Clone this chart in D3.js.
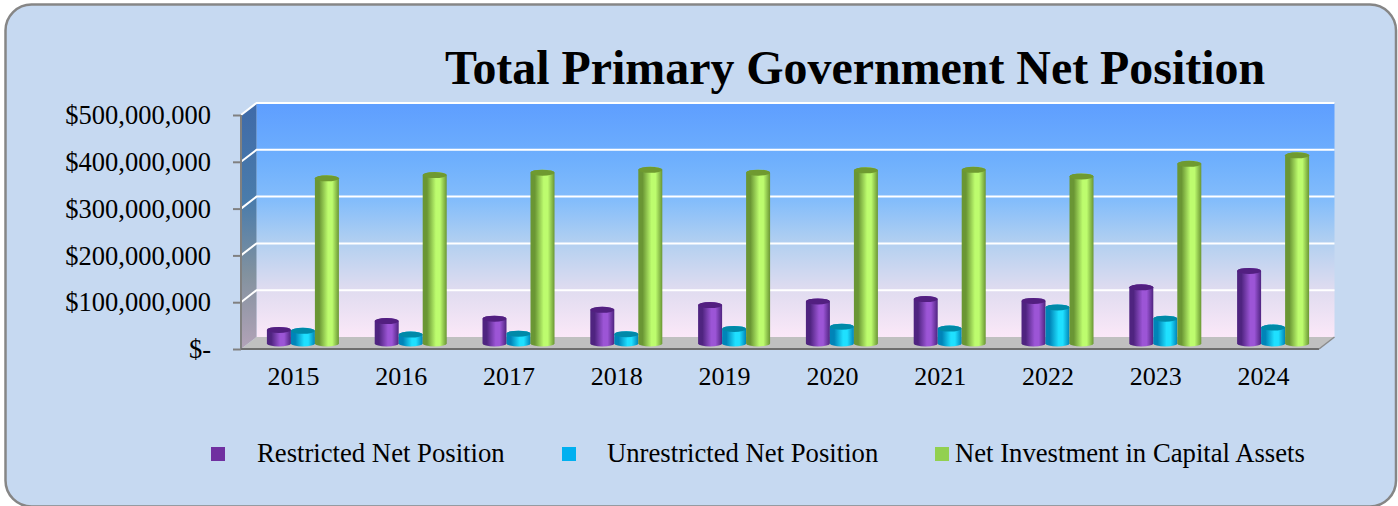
<!DOCTYPE html>
<html>
<head>
<meta charset="utf-8">
<script src="https://cdn.jsdelivr.net/npm/d3@7"></script>
<style>
html,body{margin:0;padding:0;background:#fff;overflow:hidden}
svg{display:block}
text{font-family:"Liberation Serif","Times New Roman",serif;fill:#000}
</style>
</head>
<body>
<script>
const title = "Total Primary Government Net Position";
const years = ["2015","2016","2017","2018","2019","2020","2021","2022","2023","2024"];
const seriesNames = ["Restricted Net Position","Unrestricted Net Position","Net Investment in Capital Assets"];
const restricted = [29,48,53,72,82,90,95,91,120,155].map(v=>v*1e6);
const unrestricted = [27,19,21,20,31,36,32,77,53,34].map(v=>v*1e6);
const capital = [353,360,365,371,365,370,371,357,384,402].map(v=>v*1e6);
const yTicks = [0,1e8,2e8,3e8,4e8,5e8];
const seriesValues = [restricted,unrestricted,capital];

const W=1398,H=506;
const svg=d3.select("body").append("svg").attr("width",W).attr("height",H);
const defs=svg.append("defs");

function lin(id,stops,vertical){
  const g=defs.append("linearGradient").attr("id",id)
    .attr("x1",0).attr("y1",0).attr("x2",vertical?0:1).attr("y2",vertical?1:0);
  stops.forEach(s=>g.append("stop").attr("offset",s[0]).attr("stop-color",s[1]));
}
lin("wall",[[0,"#5e9eff"],[.25,"#6fb0fd"],[.42,"#84bdfb"],[.6,"#b3d0f0"],[.8,"#e0dcf0"],[1,"#fbe8f8"]],true);
lin("side",[[0,"#3f6aa8"],[.4,"#4a7cab"],[.7,"#83929f"],[1,"#b3a3b8"]],true);
const cyl=[
 {edge:"#4f2480",mid:"#9c55d6",top:"#521f80"},
 {edge:"#0084b8",mid:"#1fe0ff",top:"#0089a8"},
 {edge:"#6a9634",mid:"#bdfc6e",top:"#6f9a30"}
];
cyl.forEach((c,i)=>lin("cyl"+i,[[0,c.edge],[.18,c.edge],[.55,c.mid],[.72,c.mid],[1,c.edge]],false));

// panel
svg.append("rect").attr("x",5.5).attr("y",4.5).attr("width",1390.5).attr("height",502).attr("rx",26)
  .attr("fill","#c6d9f1").attr("stroke","#868686").attr("stroke-width",2.5);

// title
svg.append("text").attr("x",855).attr("y",84).attr("text-anchor","middle")
  .attr("font-size",47.9).attr("font-weight","bold").text(title);

// scales
const frontLeft=241,frontRight=1319,depthX=15.5,depthY=12;
const yFront=d3.scaleLinear().domain([0,5e8]).range([349,115]);
const yBack=d3.scaleLinear().domain([0,5e8]).range([349-depthY,115-depthY]);
const yBar=d3.scaleLinear().domain([0,5e8]).range([343.5,109.5]);
const x0=d3.scaleBand().domain(years).range([frontLeft,frontRight]);
const x1=d3.scaleBand().domain([0,1,2]).range([-36,36]);

const bx=frontLeft+depthX,bxr=frontRight+depthX;
// back wall
svg.append("rect").attr("x",bx).attr("y",yBack(5e8)).attr("width",bxr-bx).attr("height",yBack(0)-yBack(5e8)).attr("fill","url(#wall)");
// side wall
svg.append("path").attr("d",`M${frontLeft},${yFront(5e8)}L${bx},${yBack(5e8)}L${bx},${yBack(0)}L${frontLeft},${yFront(0)}Z`).attr("fill","url(#side)");
// floor
svg.append("path").attr("d",`M${frontLeft},${yFront(0)}L${bx},${yBack(0)}L${bxr},${yBack(0)}L${frontRight},${yFront(0)}Z`).attr("fill","#c0c0c0");
// grid
const gridTicks=yTicks.filter(t=>t>0);
svg.selectAll("path.grid").data(gridTicks).join("path").attr("class","grid")
  .attr("d",t=>`M${frontLeft},${yFront(t)}L${bx},${yBack(t)}L${bxr},${yBack(t)}`)
  .attr("fill","none").attr("stroke","#fff").attr("stroke-width",2);

// axes
const fmt=v=>v===0?"$-":d3.format("$,")(v);
const yAxis=svg.append("g").attr("transform",`translate(${frontLeft},0)`)
  .call(d3.axisLeft(yFront).tickValues(yTicks).tickFormat(fmt).tickSize(8).tickPadding(22));
yAxis.selectAll("text").attr("font-size",26.5).attr("dy","0.33em").style("font-family",'"Liberation Serif",serif');
yAxis.selectAll("line,path").attr("stroke","#808080").attr("stroke-width",2);
yAxis.select("path").attr("d",`M0,${yFront(5e8)}V${yFront(0)}`);
svg.append("line").attr("x1",frontLeft).attr("x2",frontRight).attr("y1",yFront(0)).attr("y2",yFront(0)).attr("stroke","#6e6e6e").attr("stroke-width",2);
svg.append("path").attr("d",`M${frontRight},${yFront(0)}L${bxr},${yBack(0)}`).attr("stroke","#8c8c8c").attr("stroke-width",1.5).attr("fill","none");
const xAxis=svg.append("g").attr("transform",`translate(-1.5,${yFront(0)})`)
  .call(d3.axisBottom(x0).tickSize(0).tickPadding(18));
xAxis.select("path").remove();
xAxis.selectAll("text").attr("font-size",26).style("font-family",'"Liberation Serif",serif');

// cylinders
const rx=()=>x1.bandwidth()/2;
const ry=3;
seriesValues.forEach((vals,s)=>{
  const g=svg.append("g");
  const cx=(d,i)=>x0(years[i])+x0.bandwidth()/2+8+x1(s)+rx();
  g.selectAll("path").data(vals).join("path")
    .attr("d",(d,i)=>{
      const c=cx(d,i),r=rx(),t=yBar(d),b=yBar(0);
      return `M${c-r},${t}L${c-r},${b}A${r},${ry} 0 0 0 ${c+r},${b}L${c+r},${t}A${r},${ry} 0 0 0 ${c-r},${t}Z`;
    }).attr("fill",`url(#cyl${s})`);
  g.selectAll("ellipse").data(vals).join("ellipse")
    .attr("cx",cx).attr("cy",d=>yBar(d)).attr("rx",rx()).attr("ry",ry).attr("fill",cyl[s].top);
});

// legend
const legendColors=["#7030a0","#00b0f0","#92d050"];
const legendSquareX=[211,562,935];
const legendTextX=[257,607,955];
const lg=svg.append("g");
seriesNames.forEach((n,i)=>{
  lg.append("rect").attr("x",legendSquareX[i]).attr("y",447).attr("width",14).attr("height",14).attr("fill",legendColors[i]);
  lg.append("text").attr("x",legendTextX[i]).attr("y",461.5).attr("font-size",26.7).text(n);
});
</script>
</body>
</html>
